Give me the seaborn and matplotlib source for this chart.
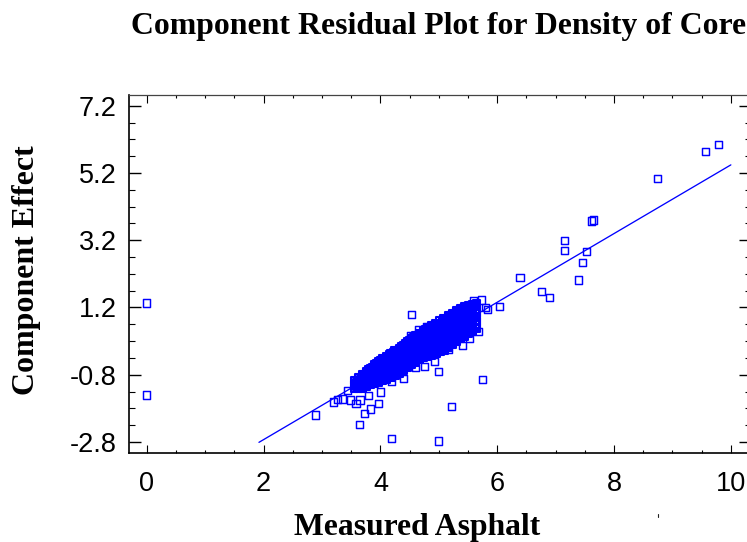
import matplotlib
matplotlib.use("Agg")
import matplotlib.pyplot as plt
from matplotlib.lines import Line2D
from matplotlib.ticker import FixedLocator, MultipleLocator
import pandas as pd
import seaborn as sns

title_text = "Component Residual Plot for Density of Core"
x_label = "Measured Asphalt"
y_label = "Component Effect"
x_ticks = [0, 2, 4, 6, 8, 10]
y_ticks = [-2.8, -0.8, 1.2, 3.2, 5.2, 7.2]
y_tick_labels = ["-2.8", "-0.8", "1.2", "3.2", "5.2", "7.2"]
y_minor_ticks = [-2.3, -1.8, -1.3, -0.3, 0.2, 0.7, 1.7, 2.2, 2.7, 3.7, 4.2, 4.7, 5.7, 6.2, 6.7]

fit_x = [1.92, 10.0]
fit_y = [-2.81, 5.44]

outlier_x = [0, 0, 9.795, 9.57, 8.745, 7.654, 7.615, 7.158, 7.158, 7.534, 7.454, 7.397,
             6.89, 6.758, 6.39, 6.045, 5.83, 5.80, 5.736, 5.59, 4.538, 4.79, 4.646, 4.51,
             5.0, 5.748, 5.22, 5.0, 4.195, 3.636, 3.733, 3.836, 3.973, 2.889, 3.19, 3.26,
             3.345, 3.49, 3.58, 3.65, 3.79, 4.0, 3.44, 4.19, 4.40, 4.60, 4.76, 4.93, 5.16,
             5.40, 5.53, 5.67]
outlier_y = [1.33, -1.40, 6.04, 5.83, 5.03, 3.80, 3.77, 3.18, 2.89, 2.86, 2.54, 2.02,
             1.49, 1.67, 2.08, 1.22, 1.15, 1.21, 1.42, 1.40, 1.00, 0.63, 0.53, 0.36,
             -0.71, -0.95, -1.75, -2.77, -2.70, -2.27, -1.96, -1.82, -1.65, -2.0, -1.61, -1.53,
             -1.52, -1.55, -1.65, -1.55, -1.41, -1.31, -1.27, -1.01, -0.92, -0.58, -0.56, -0.41, -0.06,
             0.08, 0.28, 0.48]

# The dense band.
band_x = [3.55, 3.62, 3.69, 3.76, 3.83, 3.90, 3.97, 4.04, 4.11, 4.18, 4.25, 4.32, 4.39, 4.46, 4.53, 4.60,
          4.67, 4.74, 4.81, 4.88, 4.95, 5.02, 5.09, 5.16, 5.23, 5.30, 5.37, 5.44, 5.51, 5.58, 5.65]
band_y = [
    [-1.20, -1.09, -0.96],
    [-1.20, -1.10, -0.99, -0.88],
    [-1.20, -1.10, -1.00, -0.90, -0.80],
    [-1.15, -1.05, -0.94, -0.82, -0.70],
    [-1.10, -1.00, -0.90, -0.80, -0.70, -0.61],
    [-1.06, -0.96, -0.85, -0.74, -0.62, -0.51],
    [-1.02, -0.91, -0.80, -0.70, -0.60, -0.51, -0.42],
    [-0.98, -0.87, -0.76, -0.65, -0.54, -0.43, -0.33],
    [-0.93, -0.82, -0.71, -0.60, -0.48, -0.36, -0.25],
    [-0.88, -0.77, -0.66, -0.55, -0.44, -0.33, -0.25, -0.17],
    [-0.82, -0.71, -0.60, -0.49, -0.38, -0.27, -0.18, -0.09],
    [-0.76, -0.65, -0.54, -0.43, -0.32, -0.21, -0.11, -0.01],
    [-0.67, -0.56, -0.45, -0.34, -0.23, -0.12, -0.02, 0.08],
    [-0.58, -0.47, -0.36, -0.25, -0.14, -0.03, 0.08, 0.18],
    [-0.50, -0.39, -0.28, -0.17, -0.06, 0.05, 0.16, 0.27],
    [-0.42, -0.31, -0.20, -0.09, 0.02, 0.13, 0.24, 0.35],
    [-0.34, -0.23, -0.12, -0.01, 0.10, 0.21, 0.32, 0.43],
    [-0.29, -0.18, -0.07, 0.04, 0.15, 0.26, 0.38, 0.51],
    [-0.25, -0.14, -0.03, 0.08, 0.19, 0.30, 0.41, 0.50, 0.58],
    [-0.22, -0.11, 0.00, 0.11, 0.22, 0.33, 0.44, 0.55, 0.66],
    [-0.17, -0.06, 0.05, 0.16, 0.27, 0.38, 0.49, 0.61, 0.73],
    [-0.12, -0.01, 0.10, 0.21, 0.32, 0.43, 0.55, 0.67, 0.80],
    [-0.07, 0.04, 0.15, 0.26, 0.37, 0.49, 0.61, 0.74, 0.87],
    [0.00, 0.11, 0.22, 0.33, 0.44, 0.56, 0.68, 0.82, 0.95],
    [0.09, 0.20, 0.31, 0.42, 0.53, 0.64, 0.76, 0.89, 1.02],
    [0.18, 0.29, 0.40, 0.51, 0.62, 0.73, 0.85, 0.97, 1.10],
    [0.27, 0.38, 0.49, 0.60, 0.71, 0.82, 0.93, 1.05, 1.16],
    [0.35, 0.46, 0.57, 0.68, 0.79, 0.90, 1.01, 1.12, 1.22],
    [0.44, 0.55, 0.66, 0.77, 0.88, 0.99, 1.10, 1.27],
    [0.50, 0.61, 0.72, 0.83, 0.94, 1.05, 1.16, 1.30],
    [0.58, 0.68, 0.79, 0.90, 1.01, 1.12, 1.22, 1.32],
]

# More readings between those columns, where the band is solid.
fill_x = [3.59, 3.66, 3.73, 3.80, 3.87, 3.94, 4.01, 4.08, 4.15, 4.22, 4.29, 4.36, 4.43, 4.50, 4.57, 4.64,
          4.71, 4.78, 4.85, 4.92, 4.99, 5.06, 5.13, 5.20, 5.27, 5.34, 5.41, 5.48, 5.55, 5.62]
fill_y = [
    [-1.14, -1.03],
    [-1.14, -1.04, -0.93],
    [-1.12, -1.02, -0.91, -0.81],
    [-1.07, -0.97, -0.86, -0.75, -0.66],
    [-1.03, -0.93, -0.82, -0.71, -0.60],
    [-0.99, -0.88, -0.77, -0.66, -0.55, -0.47],
    [-0.94, -0.84, -0.73, -0.62, -0.50, -0.39],
    [-0.90, -0.79, -0.68, -0.57, -0.45, -0.34],
    [-0.85, -0.74, -0.63, -0.51, -0.40, -0.28, -0.21],
    [-0.79, -0.68, -0.57, -0.46, -0.35, -0.24, -0.13],
    [-0.73, -0.62, -0.51, -0.40, -0.29, -0.18, -0.07],
    [-0.64, -0.53, -0.42, -0.31, -0.20, -0.09, 0.03],
    [-0.55, -0.44, -0.33, -0.22, -0.11, 0.01, 0.13],
    [-0.47, -0.36, -0.25, -0.14, -0.03, 0.09, 0.21],
    [-0.39, -0.28, -0.17, -0.06, 0.05, 0.17, 0.29],
    [-0.31, -0.20, -0.09, 0.02, 0.13, 0.24, 0.36],
    [-0.25, -0.14, -0.03, 0.08, 0.19, 0.30, 0.43],
    [-0.22, -0.11, 0.00, 0.11, 0.22, 0.33, 0.44, 0.53],
    [-0.18, -0.07, 0.04, 0.15, 0.26, 0.37, 0.48, 0.60],
    [-0.14, -0.03, 0.08, 0.19, 0.30, 0.41, 0.52, 0.67],
    [-0.09, 0.02, 0.13, 0.24, 0.35, 0.46, 0.58, 0.73],
    [-0.04, 0.07, 0.18, 0.29, 0.40, 0.52, 0.65, 0.79],
    [0.03, 0.14, 0.25, 0.36, 0.48, 0.60, 0.73, 0.87],
    [0.12, 0.23, 0.34, 0.45, 0.57, 0.69, 0.81, 0.95],
    [0.21, 0.32, 0.43, 0.54, 0.66, 0.78, 0.90, 1.03],
    [0.30, 0.41, 0.52, 0.63, 0.75, 0.87, 0.99, 1.10],
    [0.38, 0.49, 0.60, 0.71, 0.82, 0.94, 1.06, 1.17],
    [0.47, 0.58, 0.69, 0.80, 0.91, 1.03, 1.14, 1.23],
    [0.53, 0.64, 0.75, 0.86, 0.97, 1.08, 1.19, 1.27],
    [0.60, 0.71, 0.82, 0.93, 1.04, 1.15, 1.25],
]

outliers = pd.DataFrame({"x": outlier_x, "y": outlier_y})
dense = pd.DataFrame({
    "x": ([x for x, ys in zip(band_x, band_y) for _ in ys]
          + [x for x, ys in zip(fill_x, fill_y) for _ in ys]),
    "y": ([y for ys in band_y for y in ys]
          + [y for ys in fill_y for y in ys]),
})
fit = pd.DataFrame({"x": fit_x, "y": fit_y})

sns.set_theme(style="ticks")
plt.rcParams["font.family"] = ["Liberation Sans", "DejaVu Sans"]
plt.rcParams["axes.unicode_minus"] = False

W, H = 747, 542
fig = plt.figure(figsize=(W / 100, H / 100), dpi=100, facecolor="white")
ax = fig.add_axes([129.3 / W, (H - 452.7) / H, (751 - 129.3) / W, (452.7 - 95.3) / H])

sns.scatterplot(data=outliers, x="x", y="y", ax=ax, marker="s", s=27, facecolor="none",
                edgecolor="#0000ff", linewidth=1.05, clip_on=False)
sns.scatterplot(data=dense, x="x", y="y", ax=ax, marker="s", s=27, facecolor="none",
                edgecolor="#0000ff", linewidth=1.5, clip_on=False)
sns.lineplot(data=fit, x="x", y="y", ax=ax, color="#0000ff", linewidth=0.95,
             estimator=None, sort=False)

ax.set_xlim(-0.30, 10.345)
ax.set_ylim(-3.118, 7.509)
ax.set_xticks(x_ticks)
ax.set_yticks(y_ticks)
ax.set_yticklabels(y_tick_labels)
ax.xaxis.set_minor_locator(MultipleLocator(0.5))
ax.yaxis.set_minor_locator(FixedLocator(y_minor_ticks))

ax.tick_params(axis="x", which="major", direction="in", length=5.5, width=0.8, top=True, bottom=True,
               labelsize=19.5, pad=13, labelcolor="black", color="black")
ax.tick_params(axis="x", which="minor", direction="in", length=2.4, width=0.8, top=True, bottom=True, color="black")
ax.tick_params(axis="y", which="major", direction="in", length=8.5, width=1.0, left=True, right=True,
               labelsize=19.5, pad=9, labelcolor="black", color="black")
ax.tick_params(axis="y", which="minor", direction="in", length=4.5, width=0.8, left=True, right=True, color="black")

for side, lw, col in [("left", 1.2, "black"), ("bottom", 1.2, "black"), ("top", 0.9, "#444444"), ("right", 0.9, "black")]:
    ax.spines[side].set_linewidth(lw)
    ax.spines[side].set_color(col)
    ax.spines[side].set_visible(True)

ax.set_xlabel("")
ax.set_ylabel("")
serif = dict(family="Liberation Serif", weight="bold", color="black")
fig.text(131 / W, (H - 34) / H, title_text, fontsize=22.9, ha="left", va="baseline", **serif)
fig.text(417.5 / W, (H - 535) / H, x_label, fontsize=22.8, ha="center", va="baseline", **serif)
fig.text(27 / W, (H - 270) / H, y_label, fontsize=23, ha="center", va="center", rotation=90, **serif)
fig.add_artist(Line2D([657.7 / W, 657.7 / W], [(H - 514) / H, (H - 517) / H], color="#222222", linewidth=0.8))

fig.savefig("out.png", dpi=100)
